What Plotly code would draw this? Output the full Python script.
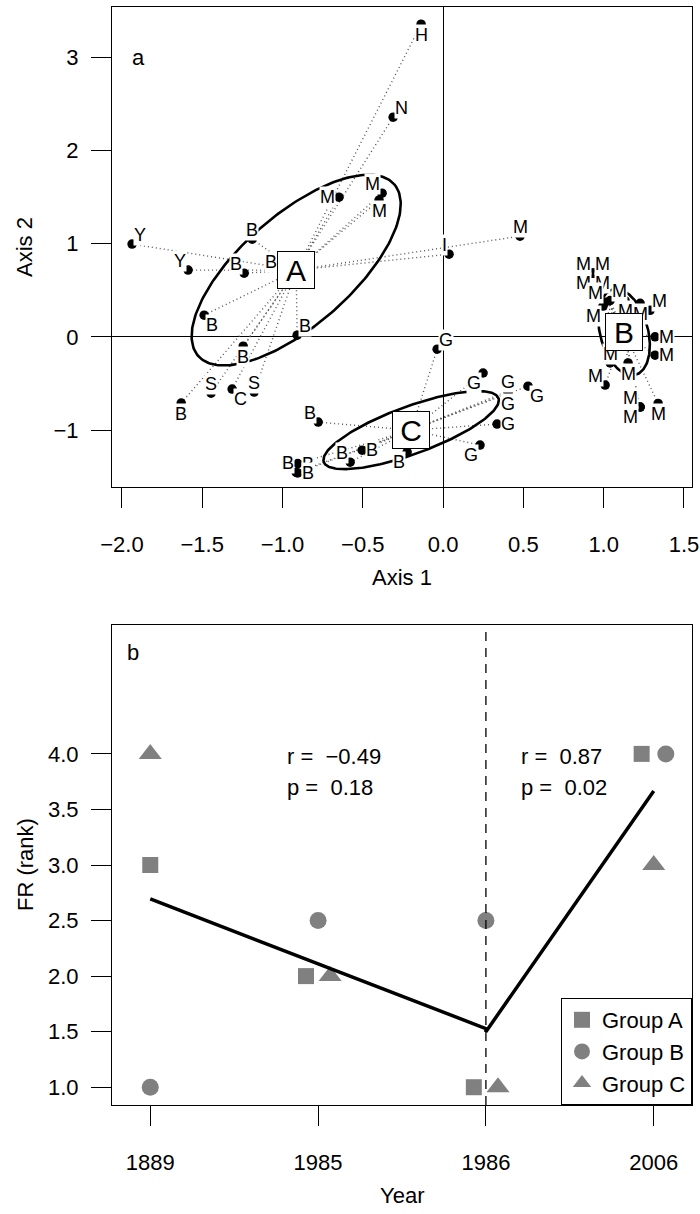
import numpy as np
import plotly.graph_objects as go

# ---------------- Panel a: ordination ----------------
site_label = ["H", "N", "M", "M", "M", "M", "I", "Y", "Y", "B", "B", "B", "B", "B", "B", "S", "C", "S", "B",
              "G", "B", "G", "G", "G", "G", "G", "G", "B", "B", "B", "B", "B", "B",
              "M", "M", "M", "M", "M", "M", "M", "M", "M", "M", "M", "M", "M", "M", "M", "M", "M", "M"]
site_group = ["A"] * 19 + ["C"] * 14 + ["B"] * 18
site_axis1 = [-0.137, -0.311, -0.648, -0.380, -0.399, 0.479, 0.037, -1.937, -1.588, -1.189, -1.239, -1.009,
              -1.488, -0.909, -1.245, -1.445, -1.314, -1.177, -1.631,
              -0.037, -0.778, 0.249, 0.405, 0.405, 0.336, 0.529, 0.230, -0.504, -0.579, -0.224, -0.915, -0.905, -0.905,
              0.934, 0.934, 0.934, 0.934, 1.009, 1.040, 0.996, 1.133, 1.227, 1.289, 1.320, 1.320, 1.040, 1.152,
              1.009, 1.227, 1.227, 1.339]
site_axis2 = [3.355, 2.357, 1.499, 1.542, 1.467, 1.080, 0.887, 0.995, 0.716, 1.048, 0.683, 0.800,
              0.233, 0.018, -0.100, -0.604, -0.561, -0.593, -0.711,
              -0.132, -0.915, -0.388, -0.582, -0.600, -0.936, -0.529, -1.161, -1.216, -1.345, -1.237, -1.455, -1.360, -1.460,
              0.683, 0.683, 0.683, 0.683, 0.372, 0.390, 0.330, 0.390, 0.360, 0.285, 0.000, -0.197, -0.280, -0.280,
              -0.517, -0.753, -0.753, -0.715]
# label placement relative to each site (style)
label_side = ["b", "tr", "l", "tl", "b", "t", "tl", "tr", "tl", "t", "tl", "l", "br", "tr", "b", "t", "br", "t", "b",
              "tr", "tl", "bl", "t", "b", "r", "br", "bl", "r", "tl", "bl", "tl", "r", "r",
              "tl", "tr", "bl", "br", "tl", "tr", "bl", "b", "b", "tr", "r", "r", "t", "b", "tl", "tl", "bl", "b"]

centroid_names = ["A", "B", "C"]
centroid_axis1 = [-0.915, 1.127, -0.199]
centroid_axis2 = [0.716, 0.050, -1.001]
# ellipse semi-axis vectors (data units)
ellipse_u = [(0.611, 0.920), (-0.071, 0.458), (0.544, 0.343)]
ellipse_v = [(-0.225, 0.448), (0.144, 0.067), (-0.0505, 0.240)]

xa_ticks = [-2.0, -1.5, -1.0, -0.5, 0.0, 0.5, 1.0, 1.5]
xa_text = ["\u22122.0", "\u22121.5", "\u22121.0", "\u22120.5", "0.0", "0.5", "1.0", "1.5"]
ya_ticks = [-1, 0, 1, 2, 3]
ya_text = ["\u22121", "0", "1", "2", "3"]

# ---------------- Panel b: FR rank ----------------
years = ["1889", "1985", "1986", "2006"]
group_names = ["Group A", "Group B", "Group C"]
group_a = [3.0, 2.0, 1.0, 4.0]
group_b = [1.0, 2.5, 2.5, 4.0]
group_c = [4.0, 2.0, 1.0, 3.0]
yb_ticks = [1.0, 1.5, 2.0, 2.5, 3.0, 3.5, 4.0]
stat_r = ["\u22120.49", "0.87"]
stat_p = ["0.18", "0.02"]
break_index = 2  # 1986

FONT = "Liberation Sans, Arial, sans-serif"
fig = go.Figure()

# dotted spokes from sites to centroids
for gi, g in enumerate(centroid_names):
    xs, ys = [], []
    for x, y, grp in zip(site_axis1, site_axis2, site_group):
        if grp == g:
            xs += [x, centroid_axis1[gi], None]
            ys += [y, centroid_axis2[gi], None]
    fig.add_trace(go.Scatter(x=xs, y=ys, mode="lines", xaxis="x", yaxis="y", showlegend=False,
                             line=dict(color="#555555", width=1.4, dash="1px,3px"), hoverinfo="skip"))

# ellipses
t = np.linspace(0, 2 * np.pi, 240)
for gi in range(len(centroid_names)):
    ux, uy = ellipse_u[gi]
    vx, vy = ellipse_v[gi]
    ex = centroid_axis1[gi] + ux * np.cos(t) + vx * np.sin(t)
    ey = centroid_axis2[gi] + uy * np.cos(t) + vy * np.sin(t)
    fig.add_trace(go.Scatter(x=ex, y=ey, mode="lines", xaxis="x", yaxis="y", showlegend=False,
                             line=dict(color="black", width=2.6), hoverinfo="skip"))

# site points
fig.add_trace(go.Scatter(x=site_axis1, y=site_axis2, mode="markers", xaxis="x", yaxis="y", showlegend=False,
                         marker=dict(color="black", size=9.5, symbol="circle"), hoverinfo="skip"))

side_map = {
    "t": dict(xanchor="center", yanchor="bottom", xshift=0, yshift=-2),
    "b": dict(xanchor="center", yanchor="top", xshift=0, yshift=0),
    "l": dict(xanchor="right", yanchor="middle", xshift=-3, yshift=0),
    "r": dict(xanchor="left", yanchor="middle", xshift=3, yshift=0),
    "tl": dict(xanchor="right", yanchor="bottom", xshift=-1, yshift=-2),
    "tr": dict(xanchor="left", yanchor="bottom", xshift=1, yshift=-2),
    "bl": dict(xanchor="right", yanchor="top", xshift=-1, yshift=1),
    "br": dict(xanchor="left", yanchor="top", xshift=1, yshift=1),
}
annotations = []
for x, y, lab, side in zip(site_axis1, site_axis2, site_label, label_side):
    a = dict(x=x, y=y, xref="x", yref="y", text=lab, showarrow=False, bgcolor="white", borderpad=0,
             font=dict(size=18, family=FONT, color="black"))
    a.update(side_map[side])
    annotations.append(a)
for gi, g in enumerate(centroid_names):
    annotations.append(dict(x=centroid_axis1[gi], y=centroid_axis2[gi], xref="x", yref="y", text=g,
                            showarrow=False, bgcolor="white", bordercolor="black", borderwidth=1,
                            borderpad=1, width=34, height=34, xanchor="center", yanchor="middle",
                            font=dict(size=30, family=FONT, color="black")))

# ---------------- Panel b traces ----------------
pos = np.arange(1, len(years) + 1)
group_vals = [group_a, group_b, group_c]
dodge = 0.072
offsets = [[0.0] * len(years) for _ in group_vals]
for i in range(len(years)):
    vals = [v[i] for v in group_vals]
    for val in set(vals):
        members = [k for k, v in enumerate(vals) if v == val]
        if len(members) > 1:
            offs = np.linspace(-dodge, dodge, len(members))
            for k, o in zip(members, offs):
                offsets[k][i] = o

symbols = ["square", "circle", "triangle-up"]
sizes = [16, 17, 20]
for k, name in enumerate(group_names):
    fig.add_trace(go.Scatter(x=pos + np.array(offsets[k]), y=group_vals[k], mode="markers", name=name,
                             xaxis="x2", yaxis="y2",
                             marker=dict(symbol=symbols[k], size=sizes[k], color="#808080")))


def fit_segment(i0, i1):
    xs, ys = [], []
    for vals in group_vals:
        for i in range(i0, i1 + 1):
            xs.append(pos[i])
            ys.append(vals[i])
    m, c = np.polyfit(xs, ys, 1)
    return [pos[i0], pos[i1]], [m * pos[i0] + c, m * pos[i1] + c]


s1x, s1y = fit_segment(0, break_index)
s2x, s2y = fit_segment(break_index, len(years) - 1)
fig.add_trace(go.Scatter(x=list(s1x) + list(s2x), y=list(s1y) + list(s2y), mode="lines", xaxis="x2", yaxis="y2",
                         showlegend=False, line=dict(color="black", width=3.5), hoverinfo="skip"))

fig.add_shape(type="line", xref="x2", yref="y2 domain", x0=pos[break_index], x1=pos[break_index], y0=0, y1=1,
              line=dict(color="black", width=1.3, dash="9px,7px"))

for j, xs in enumerate([1.80, 3.20]):
    annotations.append(dict(x=xs, y=3.98, xref="x2", yref="y2", text="r =\u00a0 " + stat_r[j], showarrow=False,
                            xanchor="left", yanchor="middle", font=dict(size=22, family=FONT)))
    annotations.append(dict(x=xs, y=3.70, xref="x2", yref="y2", text="p =\u00a0 " + stat_p[j], showarrow=False,
                            xanchor="left", yanchor="middle", font=dict(size=22, family=FONT)))

# panel letters and axis titles
cm = dict(showarrow=False, xanchor="center", yanchor="middle", font=dict(size=22, family=FONT))
annotations += [
    dict(x=0.045, y=0.896, xref="x domain", yref="y domain", text="a", **cm),
    dict(x=0.036, y=0.942, xref="x2 domain", yref="y2 domain", text="b", **cm),
    dict(x=402 / 700, y=1 - 577 / 1214, xref="paper", yref="paper", text="Axis 1", **cm),
    dict(x=25 / 700, y=1 - 247 / 1214, xref="paper", yref="paper", text="Axis 2", textangle=-90, **cm),
    dict(x=402 / 700, y=1 - 1195 / 1214, xref="paper", yref="paper", text="Year", **cm),
    dict(x=25 / 700, y=1 - 865 / 1214, xref="paper", yref="paper", text="FR (rank)", textangle=-90, **cm),
]

axis_common = dict(ticks="outside", ticklen=20, tickwidth=1, tickcolor="black", showline=True, mirror=True,
                   linecolor="black", linewidth=1, showgrid=False, automargin=False,
                   tickfont=dict(size=22, family=FONT))
xdom = [112 / 700, 692 / 700]
fig.update_layout(
    width=700, height=1214, autosize=False,
    margin=dict(l=0, r=0, t=0, b=0, pad=0),
    plot_bgcolor="white", paper_bgcolor="white",
    font=dict(family=FONT, size=22, color="black"),
    xaxis=dict(domain=xdom, anchor="y", range=[-2.062, 1.55], tickmode="array", tickvals=xa_ticks,
               ticktext=xa_text, zeroline=True, zerolinecolor="black", zerolinewidth=1,
               ticklabelstandoff=18, **axis_common),
    yaxis=dict(domain=[1 - 486.7 / 1214, 1 - 7.3 / 1214], anchor="x", range=[-1.608, 3.536], tickmode="array",
               tickvals=ya_ticks, ticktext=ya_text, zeroline=True, zerolinecolor="black", zerolinewidth=1,
               ticklabelstandoff=8, **axis_common),
    xaxis2=dict(domain=xdom, anchor="y2", range=[0.772, 4.228], tickmode="array", tickvals=list(pos),
                ticktext=years, zeroline=False, ticklabelstandoff=18, **axis_common),
    yaxis2=dict(domain=[1 - 1105 / 1214, 1 - 625 / 1214], anchor="x2", range=[0.84, 5.16], tickmode="array",
                tickvals=yb_ticks, ticktext=[f"{v:.1f}" for v in yb_ticks], zeroline=False,
                ticklabelstandoff=8, **axis_common),
    legend=dict(x=692 / 700, y=1 - 1105 / 1214, xanchor="right", yanchor="bottom", bgcolor="white",
                bordercolor="black", borderwidth=1, font=dict(size=22, family=FONT), itemsizing="trace",
                tracegroupgap=0),
    annotations=annotations,
    hovermode=False,
)

fig.write_html("out.html", config={"displayModeBar": False},
               post_script="document.body.style.margin='0';document.body.style.overflow='hidden';")
